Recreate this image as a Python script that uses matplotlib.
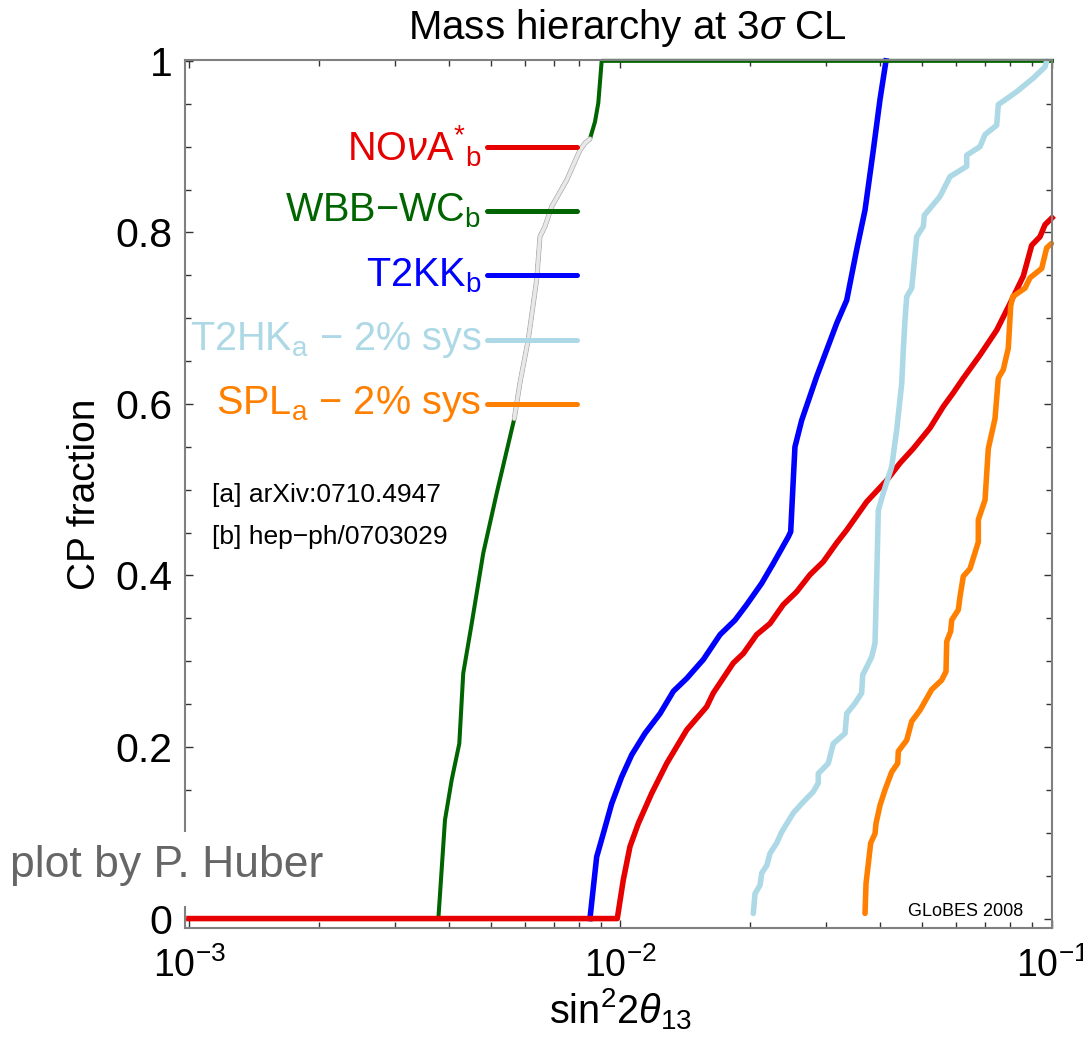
import numpy as np
import matplotlib
matplotlib.use('Agg')
import matplotlib.pyplot as plt
from matplotlib.patches import Rectangle
from matplotlib.ticker import FixedLocator, LogLocator, NullFormatter, FixedFormatter

plt.rcParams['font.family'] = ['Liberation Sans', 'DejaVu Sans']
plt.rcParams['mathtext.fontset'] = 'custom'
plt.rcParams['mathtext.rm'] = 'Liberation Sans'
plt.rcParams['mathtext.it'] = 'Liberation Sans:italic'
plt.rcParams['mathtext.bf'] = 'Liberation Sans:bold'

# --- data ---
wbb_x = [3.784e-3, 3.920e-3, 4.064e-3, 4.231e-3, 4.321e-3, 4.521e-3, 4.808e-3, 5.166e-3,
         5.675e-3, 5.850e-3, 6.113e-3, 6.394e-3, 6.508e-3, 6.683e-3, 6.926e-3, 7.505e-3,
         8.056e-3, 8.274e-3, 8.497e-3, 8.728e-3, 8.884e-3, 9.045e-3, 0.1]
wbb_y = [0.0, 0.115, 0.162, 0.204, 0.286, 0.344, 0.426, 0.496,
         0.583, 0.625, 0.675, 0.745, 0.795, 0.807, 0.830, 0.861,
         0.896, 0.904, 0.909, 0.929, 0.951, 1.0, 1.0]

t2kk_x = [8.497e-3, 8.807e-3, 9.123e-3, 9.541e-3, 1.006e-2, 1.062e-2, 1.140e-2, 1.235e-2,
          1.326e-2, 1.424e-2, 1.556e-2, 1.701e-2, 1.843e-2, 1.961e-2, 2.125e-2, 2.260e-2,
          2.448e-2, 2.480e-2, 2.514e-2, 2.537e-2, 2.630e-2, 2.849e-2, 3.170e-2, 3.344e-2,
          3.527e-2, 3.687e-2, 3.854e-2, 3.994e-2, 4.124e-2]
t2kk_y = [0.0, 0.072, 0.099, 0.134, 0.165, 0.191, 0.216, 0.239,
          0.265, 0.280, 0.302, 0.331, 0.348, 0.366, 0.391, 0.414,
          0.445, 0.451, 0.511, 0.550, 0.581, 0.632, 0.694, 0.721,
          0.780, 0.826, 0.896, 0.955, 1.0]

nova_x = [1.0e-3, 9.83e-3, 1.015e-2, 1.052e-2, 1.100e-2, 1.181e-2, 1.280e-2, 1.424e-2,
          1.584e-2, 1.641e-2, 1.826e-2, 1.926e-2, 2.068e-2, 2.221e-2, 2.384e-2, 2.560e-2,
          2.750e-2, 2.951e-2, 3.170e-2, 3.344e-2, 3.721e-2, 4.140e-2, 4.443e-2, 4.770e-2,
          5.216e-2, 5.600e-2, 5.906e-2, 6.229e-2, 6.810e-2, 7.444e-2, 7.992e-2, 8.580e-2,
          8.974e-2, 9.380e-2, 9.634e-2, 0.1]
nova_y = [0.0, 0.0, 0.045, 0.084, 0.111, 0.146, 0.181, 0.220,
          0.247, 0.263, 0.298, 0.309, 0.331, 0.344, 0.366, 0.381,
          0.401, 0.416, 0.438, 0.453, 0.486, 0.511, 0.531, 0.548,
          0.572, 0.597, 0.613, 0.630, 0.657, 0.686, 0.717, 0.749,
          0.785, 0.795, 0.809, 0.817]

t2hk_x = [2.031e-2, 2.050e-2, 2.106e-2, 2.125e-2, 2.183e-2, 2.221e-2, 2.301e-2, 2.364e-2,
          2.514e-2, 2.630e-2, 2.798e-2, 2.873e-2, 2.873e-2, 3.031e-2, 3.113e-2, 3.314e-2,
          3.344e-2, 3.495e-2, 3.622e-2, 3.642e-2, 3.820e-2, 3.889e-2, 3.924e-2, 3.958e-2,
          4.064e-2, 4.252e-2, 4.367e-2, 4.485e-2, 4.523e-2, 4.564e-2, 4.606e-2, 4.731e-2,
          4.858e-2, 5.032e-2, 5.060e-2, 5.502e-2, 5.802e-2, 6.343e-2, 6.343e-2, 6.810e-2,
          6.995e-2, 7.444e-2, 7.509e-2, 8.282e-2, 9.053e-2, 9.634e-2, 9.721e-2]
t2hk_y = [0.006, 0.029, 0.039, 0.053, 0.062, 0.076, 0.088, 0.101,
          0.123, 0.134, 0.148, 0.158, 0.169, 0.181, 0.204, 0.216,
          0.239, 0.251, 0.263, 0.284, 0.305, 0.321, 0.395, 0.476,
          0.496, 0.527, 0.570, 0.624, 0.663, 0.698, 0.725, 0.735,
          0.795, 0.807, 0.820, 0.842, 0.865, 0.877, 0.890, 0.900,
          0.914, 0.925, 0.949, 0.964, 0.980, 0.993, 1.0]

spl_x = [3.687e-2, 3.707e-2, 3.753e-2, 3.800e-2, 3.889e-2, 3.910e-2, 3.994e-2, 4.102e-2,
         4.252e-2, 4.390e-2, 4.404e-2, 4.606e-2, 4.731e-2, 4.945e-2, 5.263e-2, 5.551e-2,
         5.680e-2, 5.702e-2, 5.824e-2, 5.856e-2, 6.066e-2, 6.120e-2, 6.229e-2, 6.457e-2,
         6.749e-2, 6.749e-2, 6.995e-2, 7.119e-2, 7.378e-2, 7.509e-2, 7.711e-2, 7.919e-2,
         8.022e-2, 8.107e-2, 8.658e-2, 8.892e-2, 9.465e-2, 9.721e-2, 0.0997]
spl_y = [0.006, 0.041, 0.064, 0.088, 0.099, 0.111, 0.132, 0.150,
         0.171, 0.181, 0.195, 0.208, 0.230, 0.243, 0.267, 0.278,
         0.288, 0.323, 0.335, 0.348, 0.360, 0.375, 0.399, 0.408,
         0.439, 0.465, 0.488, 0.548, 0.583, 0.630, 0.640, 0.665,
         0.714, 0.725, 0.735, 0.747, 0.758, 0.782, 0.787]

labels = [r'NO$\nu$A$^{*}{}_{\rm b}$', r'WBB$-$WC$_{\rm b}$', r'T2KK$_{\rm b}$',
          r'T2HK$_{\rm a}$ $-$ 2% sys', r'SPL$_{\rm a}$ $-$ 2% sys']
label_y = [0.9, 0.825, 0.75, 0.675, 0.6]
colors = ['#e60000', '#006400', '#0000ff', '#add8e6', '#ff8000']

W, H = 1083, 1037
fig = plt.figure(figsize=(W / 100, H / 100), dpi=100)
ax = fig.add_axes([185 / W, 1 - 928 / H, 867 / W, 868 / H])

ax.set_xscale('log')
ax.set_xlim(9.79e-4, 0.1)
ax.set_ylim(-0.011, 1.001)

lw = 4.0
ax.plot(t2kk_x, t2kk_y, color=colors[2], lw=lw, clip_on=False, zorder=1.9)
ax.plot(wbb_x, wbb_y, color=colors[1], lw=2.9, clip_on=False, zorder=2)
# part of WBB curve drawn pale where it runs through the labels
wx = np.array(wbb_x)
wy = np.array(wbb_y)
m = (wy >= 0.58) & (wy <= 0.91)
ax.plot(wx[m], wy[m], color='#b0b0b0', lw=3.6, solid_capstyle='round', zorder=3)
ax.plot(wx[m], wy[m], color='#e8e8e8', lw=2.6, solid_capstyle='round', zorder=3)

ax.plot(nova_x, nova_y, color=colors[0], lw=lw, clip_on=False, zorder=2.1)
ax.plot(t2hk_x, t2hk_y, color=colors[3], lw=lw, clip_on=False, zorder=2.2,
        solid_capstyle='round')
ax.plot(spl_x, spl_y, color=colors[4], lw=lw, clip_on=False, zorder=2.3,
        solid_capstyle='round')

# labels with short line samples
for lab, yy, c in zip(labels, label_y, colors):
    ax.plot([4.9e-3, 7.93e-3], [yy, yy], color=c, lw=3.6, solid_capstyle='round', zorder=4)
    ax.text(4.76e-3, yy, lab, color=c, fontsize=28.5, ha='right', va='center', zorder=4)

# ticks
ax.xaxis.set_major_locator(FixedLocator([1e-3, 1e-2, 1e-1]))
ax.xaxis.set_major_formatter(FixedFormatter([r'$10^{-3}$', r'$10^{-2}$', r'$10^{-1}$']))
ax.xaxis.set_minor_locator(LogLocator(base=10, subs=np.arange(2, 10)))
ax.xaxis.set_minor_formatter(NullFormatter())
ax.yaxis.set_major_locator(FixedLocator([0, 0.2, 0.4, 0.6, 0.8, 1.0]))
ax.yaxis.set_major_formatter(FixedFormatter(['0', '0.2', '0.4', '0.6', '0.8', '1']))
ax.yaxis.set_minor_locator(FixedLocator(np.arange(0.05, 1.0, 0.05)))
ax.tick_params(which='both', direction='in', top=True, right=True, color='#333333', width=1)
ax.tick_params(which='major', length=6)
ax.tick_params(which='minor', length=4.5)
ax.tick_params(axis='y', which='major', labelsize=29.5, pad=9)
ax.tick_params(axis='x', which='major', labelsize=27, pad=14)
for s in ax.spines.values():
    s.set_color('#808080')
    s.set_linewidth(1.5)

fig.text(627 / W, 1 - 28 / H, r'Mass hierarchy at 3$\sigma$ CL', fontsize=29,
         ha='center', va='center')
fig.text(620 / W, 1 - 1009 / H, r'sin$^2$2$\theta_{13}$', fontsize=28.5,
         ha='center', va='center')
fig.text(85 / W, 1 - 494 / H, 'CP fraction', fontsize=28, rotation=90,
         ha='center', va='center')

fig.text(212 / W, 1 - 495 / H, '[a] arXiv:0710.4947', fontsize=19, ha='left', va='center')
fig.text(212 / W, 1 - 537 / H, '[b] hep\u2212ph/0703029', fontsize=19, ha='left', va='center')
fig.text(1023 / W, 1 - 912 / H, 'GLoBES 2008', fontsize=13, ha='right', va='center')

# white patch behind the credit text hides the frame and top of the "0" label
fig.patches.append(Rectangle((0, 1 - 906 / H), 325 / W, 74 / H, transform=fig.transFigure,
                             facecolor='white', edgecolor='none', zorder=2.5))
fig.text(10 / W, 1 - 866 / H, 'plot by P. Huber', fontsize=32, color='#666666',
         ha='left', va='center', zorder=3)

fig.savefig('out.png', dpi=100)
